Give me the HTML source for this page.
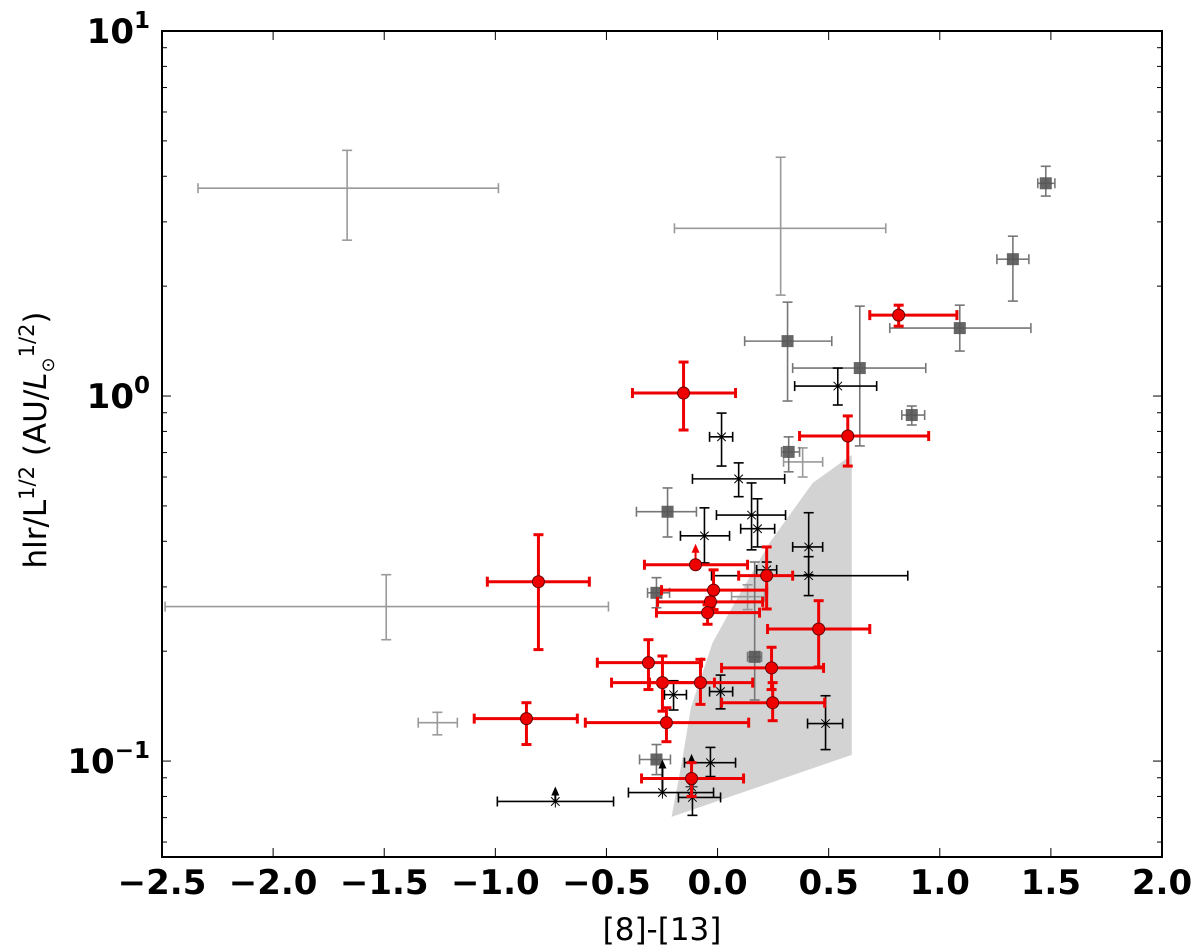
<!DOCTYPE html>
<html><head><meta charset="utf-8"><style>
html,body{margin:0;padding:0;background:#fff;}
svg{display:block;}
</style></head><body>
<svg id="chart" width="1200" height="952" xmlns="http://www.w3.org/2000/svg">
<rect x="0" y="0" width="1200" height="952" fill="#fff"/>
<g id="plot"></g>
<g id="axes"></g>
</svg>
<script>
// ---- data ----
const shadeX = [-0.207, -0.160, -0.120, -0.0225, 0.0856, 0.234, 0.428, 0.604, 0.604];
const shadeY = [0.0703, 0.100, 0.140, 0.211, 0.277, 0.396, 0.578, 0.690, 0.104];

// red circles
const redX   = [0.815,-0.153,0.586,-0.806,-0.099,0.221,-0.018,-0.032,-0.045,0.455,-0.311,-0.248,-0.077,0.243,0.248,-0.230,-0.860,-0.117];
const redXlo = [0.685,-0.383,0.369,-1.036,-0.329,0.095,-0.252,-0.270,-0.275,0.225,-0.541,-0.477,-0.306,0.018,0.018,-0.595,-1.095,-0.342];
const redXhi = [1.077,0.081,0.950,-0.577,0.135,0.338,0.221,0.203,0.189,0.685,-0.072,-0.014,0.158,0.477,0.482,0.140,-0.631,0.117];
const redY   = [1.666,1.019,0.777,0.310,0.345,0.322,0.294,0.273,0.255,0.230,0.186,0.164,0.164,0.180,0.1445,0.1274,0.1307,0.0896];
const redYlo = [1.554,0.807,0.643,0.202,0.345,0.261,0.260,0.265,0.237,0.181,0.157,0.137,0.143,0.157,0.129,0.113,0.111,0.080];
const redYhi = [1.774,1.239,0.882,0.417,0.345,0.386,0.334,0.280,0.268,0.275,0.215,0.194,0.190,0.205,0.164,0.140,0.1445,0.099];
const redUp  = [0,0,0,0,1,0,0,0,0,0,0,0,0,0,0,0,0,0];

// black asterisks
const astX   = [0.541,0.018,0.095,0.153,0.180,-0.059,0.410,0.410,0.221,-0.198,0.0135,0.486,-0.032,-0.248,-0.113,-0.117,-0.730];
const astXlo = [0.347,-0.036,-0.113,-0.005,0.104,-0.167,0.338,-0.027,0.176,-0.239,-0.036,0.405,-0.149,-0.401,-0.176,-0.117,-0.991];
const astXhi = [0.716,0.068,0.302,0.306,0.257,0.054,0.473,0.856,0.266,-0.140,0.068,0.563,0.081,-0.018,0.0135,-0.117,-0.468];
const astY   = [1.065,0.773,0.593,0.472,0.433,0.414,0.386,0.322,0.334,0.152,0.155,0.1267,0.099,0.082,0.0795,0.0850,0.0775];
const astYlo = [0.945,0.643,0.530,0.379,0.386,0.349,0.324,0.284,0.318,0.138,0.139,0.1075,0.0907,0.082,0.071,0.0850,0.0775];
const astYhi = [1.193,0.898,0.656,0.578,0.523,0.494,0.479,0.363,0.351,0.166,0.172,0.151,0.109,0.082,0.089,0.0850,0.0775];
const astUp  = [0,0,0,0,0,0,0,0,0,0,0,0,0,1,0,1,1];

// dark gray squares
const sqX   = [1.477,1.329,1.090,0.315,0.640,0.874,0.320,-0.225,-0.275,0.167,-0.275];
const sqXlo = [1.441,1.257,0.775,0.122,0.338,0.829,0.288,-0.365,-0.315,0.135,-0.351];
const sqXhi = [1.518,1.401,1.410,0.514,0.937,0.932,0.369,-0.095,-0.216,0.198,-0.212];
const sqY   = [3.827,2.371,1.535,1.414,1.193,0.887,0.703,0.482,0.289,0.193,0.101];
const sqYlo = [3.53,1.82,1.328,0.969,0.730,0.833,0.620,0.411,0.263,0.147,0.0918];
const sqYhi = [4.26,2.741,1.774,1.808,1.763,0.939,0.773,0.560,0.318,0.351,0.111];

// light gray crosses
const grX   = [-1.667,0.284,-1.491,-1.261,0.383,0.135];
const grXlo = [-2.338,-0.194,-2.486,-1.347,0.297,0.063];
const grXhi = [-0.986,0.757,-0.491,-1.171,0.473,0.212];
const grY   = [3.71,2.88,0.265,0.1274,0.660,0.282];
const grYlo = [2.673,1.89,0.215,0.118,0.600,0.260];
const grYhi = [4.71,4.51,0.324,0.136,0.721,0.304];

const xTicks = [-2.5,-2.0,-1.5,-1.0,-0.5,0.0,0.5,1.0,1.5,2.0];
const xTickLabels = ["\u22122.5","\u22122.0","\u22121.5","\u22121.0","\u22120.5","0.0","0.5","1.0","1.5","2.0"];
const yTicks = [0.1,1,10];
const yTickExp = ["\u22121","0","1"];

// ---- scales ----
const L=162,R=1162,T=31,B=857;
const X0=-2.5,X1=2.0, YL0=Math.log10(0.0546), YL1=1;
function sx(v){return L+(v-X0)/(X1-X0)*(R-L);}
function sy(v){return B-(Math.log10(v)-YL0)/(YL1-YL0)*(B-T);}
const NS="http://www.w3.org/2000/svg";
const plot=document.getElementById('plot'), axes=document.getElementById('axes');
function mk(tag,attrs,parent){const e=document.createElementNS(NS,tag);for(const k in attrs)e.setAttribute(k,attrs[k]);parent.appendChild(e);return e;}

const defs=mk('defs',{},document.getElementById('chart'));
const cp=mk('clipPath',{id:'clip'},defs);
mk('rect',{x:L,y:T,width:R-L,height:B-T},cp);
plot.setAttribute('clip-path','url(#clip)');

let pts=shadeX.map((v,i)=>sx(v)+','+sy(shadeY[i])).join(' ');
const poly=mk('polygon',{points:pts,fill:'#d3d3d3',stroke:'none'},plot);



function errbar(g,x,xlo,xhi,y,ylo,yhi,color,w,cap){
  const px=sx(x),py=sy(y);
  if(xhi!==xlo){
    mk('line',{x1:sx(xlo),y1:py,x2:sx(xhi),y2:py,stroke:color,'stroke-width':w},g);
    mk('line',{x1:sx(xlo),y1:py-cap,x2:sx(xlo),y2:py+cap,stroke:color,'stroke-width':w},g);
    mk('line',{x1:sx(xhi),y1:py-cap,x2:sx(xhi),y2:py+cap,stroke:color,'stroke-width':w},g);
  }
  if(yhi!==ylo){
    mk('line',{x1:px,y1:sy(ylo),x2:px,y2:sy(yhi),stroke:color,'stroke-width':w},g);
    mk('line',{x1:px-cap,y1:sy(ylo),x2:px+cap,y2:sy(ylo),stroke:color,'stroke-width':w},g);
    mk('line',{x1:px-cap,y1:sy(yhi),x2:px+cap,y2:sy(yhi),stroke:color,'stroke-width':w},g);
  }
}
function arrow(g,x,y,color,len){
  const px=sx(x),py=sy(y);
  mk('line',{x1:px,y1:py,x2:px,y2:py-len,stroke:color,'stroke-width':2},g);
  mk('polygon',{points:(px-4)+','+(py-len+2)+' '+(px+4)+','+(py-len+2)+' '+px+','+(py-len-7),fill:color},g);
}

grX.forEach((v,i)=>{
  const g=mk('g',{},plot);
  
  
  errbar(g,v,grXlo[i],grXhi[i],grY[i],grYlo[i],grYhi[i],'#9a9a9a',1.6,5);
});
sqX.forEach((v,i)=>{
  const g=mk('g',{},plot);
  
  
  errbar(g,v,sqXlo[i],sqXhi[i],sqY[i],sqYlo[i],sqYhi[i],'#777',1.6,5);
  mk('rect',{x:sx(v)-6,y:sy(sqY[i])-6,width:12,height:12,fill:'#555',opacity:0.9},g);
});
astX.forEach((v,i)=>{
  const g=mk('g',{},plot);
  
  
  errbar(g,v,astXlo[i],astXhi[i],astY[i],astYlo[i],astYhi[i],'#000',1.6,5);
  if(astUp[i]) arrow(g,v,astY[i],'#000',v<-0.5?8:26);
  const px=sx(v),py=sy(astY[i]);
  for(let a=0;a<4;a++){const t=a*Math.PI/4;
    mk('line',{x1:px-6*Math.cos(t),y1:py-6*Math.sin(t),x2:px+6*Math.cos(t),y2:py+6*Math.sin(t),stroke:'#000','stroke-width':1},g);}
});
redX.forEach((v,i)=>{
  const g=mk('g',{},plot);
  
  
  errbar(g,v,redXlo[i],redXhi[i],redY[i],redYlo[i],redYhi[i],'#ee0000',3,5);
  if(redUp[i]) arrow(g,v,redY[i],'#ee0000',14);
  mk('circle',{cx:sx(v),cy:sy(redY[i]),r:6,fill:'#ee0000',stroke:'#660000','stroke-width':1},g);
});

const fr=mk('rect',{x:L,y:T,width:R-L,height:B-T,fill:'none',stroke:'#000','stroke-width':2},axes);



xTicks.forEach((v,i)=>{
  const px=sx(v);
  mk('line',{x1:px,y1:B,x2:px,y2:B-9,stroke:'#000','stroke-width':1},axes);
  mk('line',{x1:px,y1:T,x2:px,y2:T+9,stroke:'#000','stroke-width':1},axes);
  const t=mk('text',{x:px,y:894,'text-anchor':'middle','font-family':'DejaVu Sans, Liberation Sans, sans-serif','font-weight':'bold','font-size':'34'},axes);
  t.textContent=xTickLabels[i];
  
  
});
for(let d=-2;d<=1;d++){
  for(let m=1;m<=9;m++){
    const v=m*Math.pow(10,d);
    if(v<0.0546||v>10) continue;
    const py=sy(v), len=(m===1)?9:5;
    mk('line',{x1:L,y1:py,x2:L+len,y2:py,stroke:'#000','stroke-width':1},axes);
    mk('line',{x1:R,y1:py,x2:R-len,y2:py,stroke:'#000','stroke-width':1},axes);
  }
}
yTicks.forEach((v,i)=>{
  const py=sy(v);
  const t=mk('text',{x:150,y:py+12,'text-anchor':'end','font-family':'DejaVu Sans, Liberation Sans, sans-serif','font-weight':'bold','font-size':'34'},axes);
  
  
  const a=mk('tspan',{},t); a.textContent='10';
  const b=mk('tspan',{dy:'-15','font-size':'23'},t); b.textContent=yTickExp[i];
});
const xt=mk('text',{x:662,y:940,'text-anchor':'middle','font-family':'DejaVu Sans, Liberation Sans, sans-serif','font-size':'31'},axes);
xt.textContent='[8]-[13]';


const yt=mk('text',{x:0,y:0,'text-anchor':'middle','font-family':'DejaVu Sans, Liberation Sans, sans-serif','font-size':'31',transform:'translate(46,440) rotate(-90)'},axes);


yt.innerHTML='hlr/L<tspan dy="-12" font-size="21">1/2</tspan><tspan dy="12"> (AU/</tspan><tspan font-style="italic">L</tspan><tspan dy="8" font-size="18">⊙</tspan><tspan dy="-20" font-size="21">1/2</tspan><tspan dy="12">)</tspan>';
</script>
</body></html>
